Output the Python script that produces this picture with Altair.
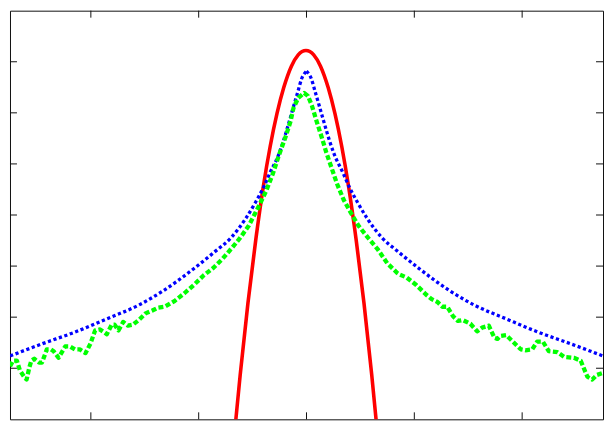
import altair as alt
import pandas as pd

# ---- data (x: tick units, y: tick units from bottom) ----
xticks = [-2, -1, 0, 1, 2]
yticks = [1, 2, 3, 4, 5, 6, 7]

red_x = [-0.705, -0.655, -0.615, -0.543, -0.471, -0.400, -0.337, -0.274, -0.211,
         -0.140, -0.077, -0.041, -0.005, 0.031, 0.067, 0.130, 0.201, 0.264, 0.327,
         0.390, 0.461, 0.533, 0.605, 0.645, 0.695]
red_y = [-1.130, 0.0, 0.869, 2.276, 3.507, 4.563, 5.341, 5.985, 6.494,
         6.913, 7.135, 7.200, 7.222, 7.200, 7.135, 6.913, 6.494, 5.985, 5.341,
         4.563, 3.507, 2.276, 0.869, 0.0, -1.130]

blue_x = [-2.749, -2.448, -2.152, -1.857, -1.552, -1.327, -1.049, -0.852, -0.700,
          -0.565, -0.475, -0.395, -0.341, -0.251, -0.215, -0.188, -0.152, -0.117,
          -0.081, -0.045, 0.0, 0.045, 0.081, 0.117, 0.152, 0.188, 0.215, 0.251,
          0.341, 0.395, 0.475, 0.565, 0.700, 0.852, 1.049, 1.327, 1.552, 1.857,
          2.152, 2.448, 2.749]
blue_y = [1.241, 1.481, 1.704, 1.963, 2.241, 2.519, 2.944, 3.278, 3.556,
          3.926, 4.241, 4.556, 4.815, 5.222, 5.444, 5.630, 5.889, 6.148,
          6.407, 6.667, 6.815, 6.667, 6.407, 6.148, 5.889, 5.630, 5.444, 5.222,
          4.815, 4.556, 4.241, 3.926, 3.556, 3.278, 2.944, 2.519, 2.241, 1.963,
          1.704, 1.481, 1.241]

green_x = [-2.749, -2.722, -2.686, -2.659, -2.614, -2.596, -2.570, -2.552, -2.525,
           -2.480, -2.453, -2.408, -2.372, -2.345, -2.300, -2.274, -2.238, -2.193,
           -2.148, -2.103, -2.049, -2.004, -1.960, -1.915, -1.852, -1.807, -1.780,
           -1.744, -1.700, -1.655, -1.610, -1.556, -1.493, -1.430, -1.377, -1.314,
           -1.224, -1.135, -1.045, -0.955, -0.865, -0.776, -0.686, -0.614, -0.534,
           -0.480, -0.435, -0.372, -0.314, -0.256, -0.193, -0.148, -0.121, -0.076,
           -0.022, 0.013, 0.049, 0.094, 0.139, 0.184, 0.229, 0.283, 0.345,
           0.408, 0.480, 0.570, 0.659, 0.749, 0.839, 0.865, 0.928, 1.018,
           1.108, 1.161, 1.215, 1.260, 1.305, 1.359, 1.404, 1.448, 1.520,
           1.583, 1.628, 1.691, 1.744, 1.771, 1.798, 1.852, 1.915, 1.987,
           2.031, 2.094, 2.139, 2.193, 2.247, 2.327, 2.390, 2.480, 2.543,
           2.605, 2.650, 2.695, 2.749]
green_y = [1.037, 1.148, 1.148, 0.963, 0.815, 0.778, 1.019, 1.148, 1.185,
           1.111, 1.111, 1.370, 1.370, 1.333, 1.204, 1.296, 1.426, 1.426,
           1.370, 1.370, 1.296, 1.481, 1.741, 1.759, 1.667, 1.852, 1.852,
           1.741, 1.907, 1.833, 1.852, 1.944, 2.074, 2.130, 2.185, 2.204,
           2.315, 2.463, 2.630, 2.815, 2.963, 3.148, 3.370, 3.556, 3.796,
           4.019, 4.204, 4.481, 4.796, 5.167, 5.537, 5.833, 6.093, 6.296,
           6.389, 6.333, 6.148, 5.833, 5.537, 5.222, 4.944, 4.611, 4.296,
           4.056, 3.796, 3.556, 3.333, 3.056, 2.870, 2.833, 2.778, 2.630,
           2.444, 2.352, 2.296, 2.204, 2.204, 2.019, 1.926, 1.944, 1.870,
           1.722, 1.796, 1.833, 1.593, 1.574, 1.630, 1.648, 1.519, 1.370,
           1.352, 1.370, 1.519, 1.519, 1.333, 1.315, 1.222, 1.204, 1.148,
           0.833, 0.778, 0.870, 0.907]

# ---- layout ----
W, H = 595, 410
TICK = 7

xs = alt.Scale(domain=[-2.75, 2.75], nice=False, zero=False)
ys = alt.Scale(domain=[0, 8], nice=False, zero=False)


def frame(xv, yv, split_at_peak=False):
    rows = []
    if split_at_peak:
        k = max(range(len(yv)), key=lambda j: yv[j])
        for j in range(0, k + 1):
            rows.append({"x": xv[j], "y": yv[j], "i": j, "side": "L"})
        for j in range(k, len(xv)):
            rows.append({"x": xv[j], "y": yv[j], "i": j, "side": "R"})
    else:
        for j in range(len(xv)):
            rows.append({"x": xv[j], "y": yv[j], "i": j, "side": "A"})
    return pd.DataFrame(rows)


def line_layer(df, color, width, dash=None, interp="linear"):
    kw = dict(color=color, strokeWidth=width, clip=True, interpolate=interp,
              strokeCap="butt", strokeJoin="round")
    if dash:
        kw["strokeDash"] = dash
    return alt.Chart(df).mark_line(**kw).encode(
        x=alt.X("x:Q", scale=xs, axis=None),
        y=alt.Y("y:Q", scale=ys, axis=None),
        detail="side:N",
        order="i:Q",
    )


xt = pd.DataFrame({"x": xticks})
yt = pd.DataFrame({"y": yticks})

tick_top = alt.Chart(xt).mark_rule(color="#111", strokeWidth=1).encode(
    x=alt.X("x:Q", scale=xs, axis=None), y=alt.value(0), y2=alt.value(TICK))
tick_bottom = alt.Chart(xt).mark_rule(color="#111", strokeWidth=1).encode(
    x=alt.X("x:Q", scale=xs, axis=None), y=alt.value(H), y2=alt.value(H - TICK))
tick_left = alt.Chart(yt).mark_rule(color="#111", strokeWidth=1).encode(
    y=alt.Y("y:Q", scale=ys, axis=None), x=alt.value(0), x2=alt.value(TICK))
tick_right = alt.Chart(yt).mark_rule(color="#111", strokeWidth=1).encode(
    y=alt.Y("y:Q", scale=ys, axis=None), x=alt.value(W), x2=alt.value(W - TICK))

red = line_layer(frame(red_x, red_y), "#ff0000", 3.6, interp="monotone")
blue = line_layer(frame(blue_x, blue_y, split_at_peak=True), "#0000ff", 3.3,
                  dash=[3.2, 2.6], interp="monotone")
green = line_layer(frame(green_x, green_y), "#00ff00", 4.3, dash=[5, 2.5])

chart = alt.layer(
    tick_top, tick_bottom, tick_left, tick_right, red, blue, green
).properties(
    width=W, height=H, padding=1, background="white"
).configure_view(
    stroke="#111", strokeWidth=1
)

chart.save("out.html", embed_options={"renderer": "svg", "actions": False})
